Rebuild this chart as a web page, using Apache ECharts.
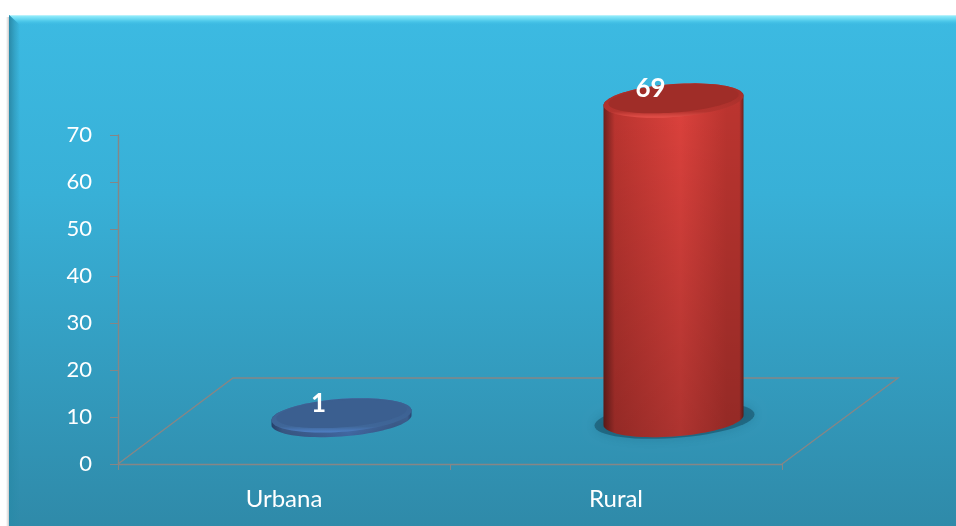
<!DOCTYPE html>
<html>
<head>
<meta charset="utf-8">
<style>html,body{margin:0;padding:0;background:#fff}#c{width:956px;height:526px}</style>
<script src="https://cdn.jsdelivr.net/npm/echarts@6/dist/echarts.min.js"></script>
</head>
<body>
<div id="c"></div>
<script>
const categories = ['Urbana', 'Rural'];
const values = [1, 69];
const yTicks = { min: 0, max: 70, interval: 10 };
const palettes = [
  { edge: '#2c4a7c', side: '#44699f', mid: '#5080c8', cap: '#3b5f90', rim: '#3f6698', glow: '#4f80c6' },
  { edge: '#6f201d', side: '#bd3530', mid: '#de423d', cap: '#a02d28', rim: '#b5342f', glow: '#e6504a' }
];
const FONT = 'Lato, "Open Sans", sans-serif';
const DEPTH = { x: 115, y: -86 };
const RX = 70, RY = 16.5, SKEW = 0.07;

function ellipsePts(cx, cy, rx, ry, from, to, n) {
  const pts = [];
  for (let i = 0; i <= n; i++) {
    const t = from + (to - from) * i / n;
    const x = rx * Math.cos(t), y = ry * Math.sin(t);
    pts.push([cx + x, cy + y - x * SKEW]);
  }
  return pts;
}

function renderFloor(params, api) {
  const c = params.coordSys;
  const x0 = c.x, x1 = c.x + c.width, y0 = c.y + c.height;
  const pts = [[x0, y0], [x0 + DEPTH.x, y0 + DEPTH.y], [x1 + DEPTH.x + 1, y0 + DEPTH.y], [x1, y0]];
  return {
    type: 'polyline',
    shape: { points: pts },
    style: { stroke: '#868686', lineWidth: 1.4, fill: null }
  };
}

function renderCyl(params, api) {
  const i = api.value(0);
  const val = api.value(1);
  const p = palettes[i];
  const top = api.coord([i, val]);
  const base = api.coord([i, 0]);
  const cx = top[0] + DEPTH.x / 2;
  const yBase = base[1] + DEPTH.y / 2 - 1;
  const yTop = yBase - (base[1] - top[1]) * 0.985;
  const h = yBase - yTop;
  const spread = Math.min(10, h * 0.04);
  const body = ellipsePts(cx, yTop, RX, RY, Math.PI, 2 * Math.PI, 40)
    .concat(ellipsePts(cx, yBase, RX, RY, 0, Math.PI, 40));
  const shadowOpacity = Math.min(0.45, h * 0.002);
  const hGrad = new echarts.graphic.LinearGradient(0, 0, 1, 0, [
    { offset: 0, color: p.edge },
    { offset: 0.08, color: p.side },
    { offset: 0.55, color: p.mid },
    { offset: 0.88, color: p.side },
    { offset: 0.97, color: p.side },
    { offset: 1, color: p.edge }
  ]);
  return {
    type: 'group',
    children: [
      {
        type: 'polygon',
        shape: { points: ellipsePts(cx + 1, yBase, RX + spread, RY + spread * 0.15, 0, 2 * Math.PI, 60) },
        style: { fill: 'rgba(15,60,80,' + shadowOpacity + ')', shadowBlur: 12, shadowColor: 'rgba(15,60,80,' + shadowOpacity + ')' }
      },
      { type: 'polygon', shape: { points: body }, style: { fill: hGrad } },
      {
        type: 'polygon',
        shape: { points: body },
        style: {
          fill: new echarts.graphic.LinearGradient(0, 0, 0, 1, [
            { offset: 0, color: 'rgba(0,0,0,0)' },
            { offset: 1, color: 'rgba(0,0,0,0.22)' }
          ])
        }
      },
      {
        type: 'polygon',
        shape: { points: ellipsePts(cx, yTop, RX, RY, 0, 2 * Math.PI, 80) },
        style: {
          fill: new echarts.graphic.LinearGradient(0, 0, 0, 1, [
            { offset: 0, color: p.cap },
            { offset: 0.82, color: p.rim },
            { offset: 1, color: p.glow }
          ])
        }
      },
      {
        type: 'polygon',
        shape: { points: ellipsePts(cx, yTop - 1.5, RX - 5, RY - 3, 0, 2 * Math.PI, 80) },
        style: { fill: p.cap }
      },
      {
        type: 'text',
        style: {
          x: cx - 23, y: yTop - 12, text: String(val),
          fill: '#fff', font: 'bold 26px ' + FONT, align: 'center', verticalAlign: 'middle'
        }
      }
    ]
  };
}

const frameTop = 15, frameLeft = 9, W = 956, H = 526;
const chart = echarts.init(document.getElementById('c'), null, { renderer: 'canvas' });
chart.setOption({
  animation: false,
  backgroundColor: '#fff',
  graphic: [
    { type: 'rect', z: -5, shape: { x: frameLeft - 3, y: frameTop + 2, width: 3, height: H - frameTop },
      style: { fill: new echarts.graphic.LinearGradient(0, 0, 1, 0, [{ offset: 0, color: 'rgba(150,150,150,0)' }, { offset: 1, color: 'rgba(150,150,150,0.5)' }]) } },
    { type: 'rect', z: -4, shape: { x: frameLeft, y: frameTop, width: W - frameLeft, height: H - frameTop },
      style: { fill: new echarts.graphic.LinearGradient(0, 0, 0, 1, [{ offset: 0, color: '#3cbae2' }, { offset: 0.35, color: '#38b0d7' }, { offset: 1, color: '#2f8aa9' }]) } },
    { type: 'polygon', z: -3, shape: { points: [[frameLeft, frameTop], [W, frameTop], [W, frameTop + 10], [frameLeft + 11, frameTop + 10]] },
      style: { fill: new echarts.graphic.LinearGradient(0, 0, 0, 1, [{ offset: 0, color: '#d5f6fb' }, { offset: 0.12, color: '#8ceafa' }, { offset: 0.55, color: '#55cdec' }, { offset: 1, color: 'rgba(60,189,229,0)' }]) } },
    { type: 'polygon', z: -3, shape: { points: [[frameLeft, frameTop], [frameLeft + 11, frameTop + 10], [frameLeft + 11, H], [frameLeft, H]] },
      style: { fill: new echarts.graphic.LinearGradient(0, 0, 1, 0, [{ offset: 0, color: '#2a8aa8' }, { offset: 0.5, color: 'rgba(42,138,168,0.45)' }, { offset: 1, color: 'rgba(42,138,168,0)' }]) } }
  ],
  grid: { left: 118, right: 174, top: 135, bottom: 62, containLabel: false },
  xAxis: {
    type: 'category',
    data: categories,
    axisLine: { lineStyle: { color: '#868686', width: 1.4 } },
    axisTick: { show: true, length: 6, lineStyle: { color: '#868686' } },
    axisLabel: { color: '#fff', fontFamily: FONT, fontSize: 24, margin: 23 }
  },
  yAxis: {
    type: 'value',
    min: yTicks.min, max: yTicks.max, interval: yTicks.interval,
    splitLine: { show: false },
    axisLine: { show: true, lineStyle: { color: '#868686', width: 1.4 } },
    axisTick: { show: true, length: 8, lineStyle: { color: '#868686' } },
    axisLabel: { color: '#fff', fontFamily: FONT, fontSize: 22, margin: 26 }
  },
  series: [
    { type: 'custom', z: 1, silent: true, renderItem: renderFloor, data: [[0, 0]], encode: { x: 0, y: 1 } },
    { type: 'custom', z: 3, silent: true, renderItem: renderCyl, data: values.map((v, i) => [i, v]), encode: { x: 0, y: 1 } }
  ]
});
</script>
</body>
</html>
